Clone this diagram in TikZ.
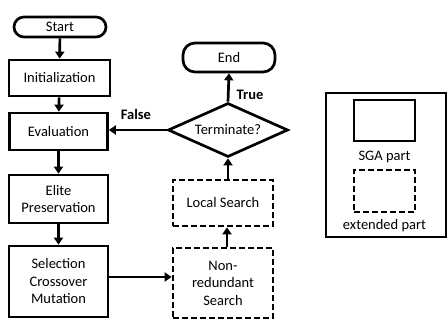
\documentclass[tikz,border=0pt]{standalone}
\usepackage{fontspec}
\setmainfont{Carlito}
\usetikzlibrary{arrows.meta,shapes.geometric}
\begin{document}
\begin{tikzpicture}[x=1pt,y=-1pt,
  every node/.style={font=\fontsize{14.5}{17.5}\selectfont},
  base/.style={draw,line width=2.7pt,inner sep=0pt,align=center},
  sgabox/.style={base},
  extbox/.style={base,dash pattern=on 6pt off 3pt},
  term/.style={base,rounded corners=10pt},
  arr/.style={line width=2.7pt,-{Triangle[length=7pt,width=9pt]}},
  lbl/.style={font=\fontsize{14.5}{17.5}\selectfont\bfseries}]
\useasboundingbox (0,0) rectangle (448,320);
\node[term,minimum width=92pt,minimum height=20pt] (start) at (60,27) {Start};
\node[sgabox,minimum width=101pt,minimum height=36pt] (init) at (59.5,78) {Initialization};
\node[sgabox,minimum width=98pt,minimum height=37pt] (eval) at (58.5,131.5) {Evaluation};
\node[sgabox,minimum width=99pt,minimum height=48pt] (elite) at (58.5,199) {Elite\\Preservation};
\node[sgabox,minimum width=99pt,minimum height=71pt] (sel) at (58.5,281.5) {Selection\\Crossover\\Mutation};
\node[extbox,minimum width=100pt,minimum height=70pt] (nonr) at (223,283) {Non-\\redundant\\Search};
\node[extbox,minimum width=100pt,minimum height=46pt] (local) at (223,203) {Local Search};
\node[base,diamond,aspect=2.2,minimum width=120pt,minimum height=54pt] (termq) at (228,130) {Terminate?};
\node[term,minimum width=92pt,minimum height=29pt,rounded corners=12pt] (endn) at (229,57.5) {End};
\draw[arr] (start) -- (init);
\draw[arr] (init) -- (eval);
\draw[arr] (eval) -- (elite);
\draw[arr] (elite) -- (sel);
\draw[arr] (sel.east |- 0,277) -- (nonr.west |- 0,277);
\draw[arr] (nonr.north -| 227,0) -- (local.south -| 227,0);
\draw[arr] (local.north -| 228,0) -- (termq.south);
\draw[arr] (termq.north) -- (endn.south);
\draw[arr] (termq.west) -- (eval.east |- termq.west);
\node[lbl] (false) at (136,114) {False};
\node[lbl] (true) at (250,95) {True};
% legend
\node[draw,line width=2.7pt,minimum width=120pt,minimum height=144pt,inner sep=0pt] (leg) at (386,165) {};
\node[sgabox,minimum width=61pt,minimum height=41pt] (lsga) at (384.5,120.5) {};
\node (lsgat) at (384.5,157) {SGA part};
\node[extbox,minimum width=61pt,minimum height=42pt] (lext) at (384.5,191) {};
\node (lextt) at (384.5,226) {extended part};
\end{tikzpicture}
\end{document}
